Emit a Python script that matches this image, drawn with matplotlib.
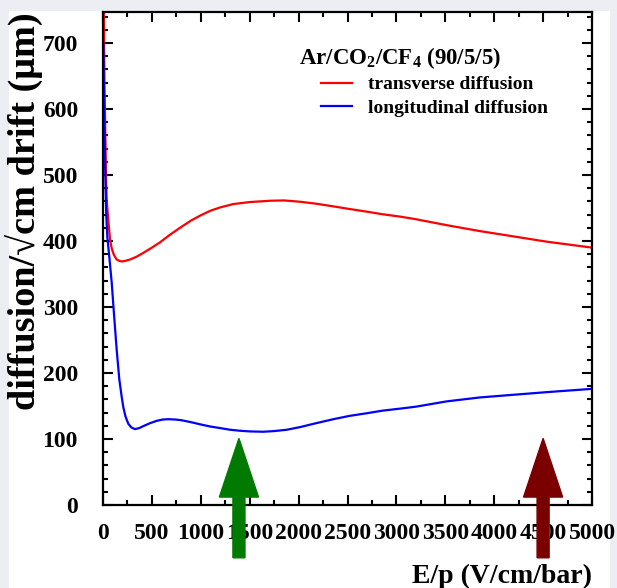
import numpy as np
import matplotlib.pyplot as plt
from matplotlib.patches import Rectangle

plt.rcParams['font.family'] = ['Liberation Serif', 'DejaVu Serif']
plt.rcParams['font.weight'] = 'bold'
plt.rcParams['mathtext.default'] = 'regular'

# transverse diffusion (red)
trans_x = [5, 15, 24, 31, 38, 54, 72, 89, 106, 123, 140, 165, 191, 230, 276,
           340, 412, 500, 583, 680, 787, 900, 1000, 1100, 1200, 1332, 1500,
           1708, 1850, 2014, 2180, 2355, 2520, 2696, 2860, 3037, 3200, 3514,
           3855, 4196, 4537, 5000]
trans_y = [800, 640, 560, 497, 462, 432, 402, 389, 381, 376, 372, 370, 369,
           370, 372, 376, 382, 390, 398, 409, 420, 431, 439, 446, 451, 456,
           459, 461, 461.5, 459.5, 456.5, 452.5, 448.5, 444.5, 440.5, 437,
           433, 424, 415, 407, 399, 390]

# longitudinal diffusion (blue)
long_x = [3, 12, 22, 33, 45, 65, 89, 112, 140, 167, 191, 208, 230, 259, 290,
          327, 370, 412, 481, 549, 610, 668, 740, 800, 900, 1000, 1094, 1200,
          1300, 1401, 1500, 1639, 1750, 1878, 2014, 2180, 2355, 2520, 2696,
          2860, 3037, 3200, 3514, 3855, 4196, 4537, 5000]
long_y = [700, 600, 510, 440, 405, 375, 337, 290, 235, 190, 164, 148, 134,
          123, 117.5, 115, 116.5, 119.5, 124, 127.5, 129.5, 130, 129.5, 128.5,
          125.5, 122, 119, 116.5, 114, 112.5, 111.5, 111, 112, 114, 118, 124,
          130, 135, 139, 143, 146, 149, 157, 163, 167, 171, 176]

arrow_x = [1390, 4500]
arrow_col = ['#007a00', '#7a0000']

fig = plt.figure(figsize=(6.17, 5.88), dpi=100, facecolor='#eceef4')
fig.patches.append(Rectangle((9/617, 0), 601/617, 577/588, transform=fig.transFigure,
                             facecolor='white', edgecolor='none', zorder=-1))
ax = fig.add_axes([103/617, 83/588, 489/617, 493/588])

ax.plot(trans_x, trans_y, color='#ff0000', lw=1.6, label='transverse diffusion')
ax.plot(long_x, long_y, color='#0000ff', lw=1.6, label='longitudinal diffusion')

for xa, c in zip(arrow_x, arrow_col):
    ax.arrow(xa, -80, 0, 181, width=123, head_width=400, head_length=89,
             length_includes_head=True, color=c, clip_on=False, zorder=5)

ax.set_xlim(0, 5000)
ax.set_ylim(0, 747)
ax.set_xticks(np.arange(0, 5001, 500))
ax.set_xticks(np.arange(0, 5001, 250), minor=True)
ax.set_yticks(np.arange(0, 701, 100))
ax.set_yticks(np.arange(0, 741, 20), minor=True)
ax.tick_params(which='both', direction='in', top=True, right=True, width=1.5)
ax.tick_params(which='major', length=7)
ax.tick_params(which='minor', length=3.6)
ax.tick_params(axis='y', pad=18, labelsize=17)
ax.tick_params(axis='x', pad=13, labelsize=17)
for s in ax.spines.values():
    s.set_linewidth(1.6)

ax.set_ylabel('diffusion/√cm drift (μm)', fontsize=27.5, fontweight='bold',
              loc='top', labelpad=-1)
ax.set_xlabel('E/p (V/cm/bar)', fontsize=20, fontweight='bold', loc='right',
              labelpad=14)

ax.text(0.4, 0.907, 'Ar/CO$_2$/CF$_4$ (90/5/5)', transform=ax.transAxes,
        fontsize=16.5, va='center', ha='left')
ax.legend(loc='upper left', bbox_to_anchor=(0.41, 0.906), frameon=False,
          fontsize=14, handlelength=1.6, handletextpad=0.8, labelspacing=0.3)

fig.savefig('out.png', dpi=100, facecolor=fig.get_facecolor())
